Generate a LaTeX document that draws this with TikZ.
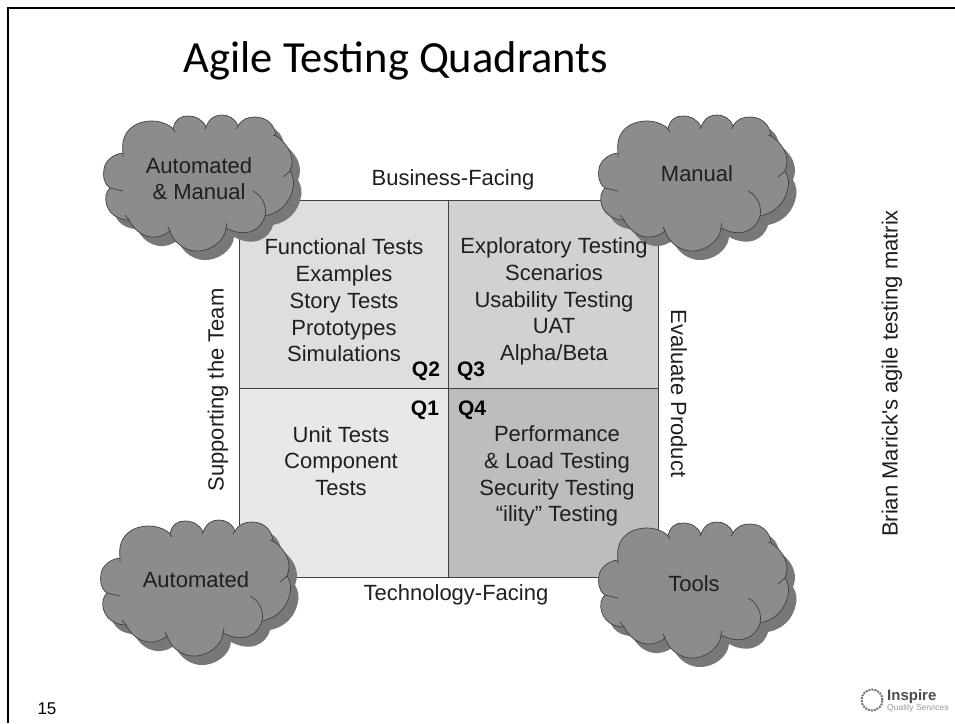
\documentclass[tikz,border=0pt]{standalone}
\usepackage{fontspec}
\setmainfont{Liberation Sans}
\newfontfamily\titlefont{Carlito}
\newfontfamily\plainfont{Liberation Sans}
\definecolor{cloudfill}{gray}{0.55}
\definecolor{cloudshadow}{gray}{0.47}
\definecolor{txt}{gray}{0.12}
\newcommand{\cloudfillpath}{
 (28,50) .. controls (25,28) and (40,18) .. (57,18) .. controls (66,18) and (75,22) .. (78,26)
 .. controls (80,16) and (86,13) .. (93,13) .. controls (101,13) and (108,17) .. (111,24)
 .. controls (115,14) and (121,12) .. (127,12) .. controls (133,12) and (140,15) .. (143,23)
 .. controls (147,16) and (153,14) .. (160,14) .. controls (172,14) and (180,22) .. (181,33)
 .. controls (192,40) and (197,50) .. (197,59) .. controls (197,62) and (196,65) .. (195,68)
 .. controls (199,75) and (199,80) .. (198,85) .. controls (195,100) and (185,110) .. (170,113)
 .. controls (166,128) and (150,135) .. (131,125)
 .. controls (130,138) and (115,149) .. (100,148) .. controls (88,147) and (78,138) .. (75,128)
 .. controls (65,137) and (45,138) .. (34,117)
 .. controls (18,117) and (9,105) .. (11,92) .. controls (12,89) and (13,87) .. (15,85)
 .. controls (8,80) and (8,72) .. (9,66) .. controls (10,58) and (18,51) .. (28,50) -- cycle}
\newcommand{\cloudtails}{
 (28,50) -- (28,54) (78,26) -- (80,29) (111,24) -- (110,26) (143,23) -- (141,26)
 (181,33) -- (178,32) (195,68) -- (188,74)
 (170,113) .. controls (172,104) and (168,93) .. (158,88)
 (131,125) -- (132,120) (75,128) -- (73,124) (34,117) -- (30,112) (15,85) -- (28,88)}
\tikzset{
 x=1pt,y=-1pt,
 quad/.style={draw=black!75,line width=0.8pt,anchor=north west,inner sep=0pt},
 body/.style={align=center,text=txt,font=\fontsize{22}{26.7}\selectfont,inner sep=0pt},
 lab/.style={text=txt,font=\fontsize{22}{26}\selectfont,inner sep=0pt},
 qlab/.style={text=black,font=\bfseries\fontsize{21}{25}\selectfont,inner sep=0pt},
 cloudlab/.style={text=txt,font=\fontsize{22}{27}\selectfont,align=center,inner sep=0pt}
}
\newcommand{\cloudat}[2]{%
 \fill[cloudshadow,shift={(#1+8,#2+9)}] \cloudfillpath;
 \fill[cloudfill,shift={(#1,#2)}] \cloudfillpath;
 \draw[black!75,line width=0.7pt,shift={(#1,#2)}] \cloudfillpath \cloudtails;
}
\begin{document}
\begin{tikzpicture}
\useasboundingbox (0,0) rectangle (955,723);
\fill[white] (0,0) rectangle (955,723);
\draw[black,line width=2.4pt] (8,723) -- (8,8) -- (955,8);
\node[inner sep=0pt,anchor=center,text=black,font=\titlefont\fontsize{44.5}{50}\selectfont] (title) at (396,61) {Agile Testing Quadrants};

\node[quad,fill=black!13,minimum width=209pt,minimum height=188pt] (q2) at (239,200) {};
\node[quad,fill=black!18,minimum width=210pt,minimum height=188pt] (q3) at (448,200) {};
\node[quad,fill=black!9,minimum width=209pt,minimum height=189pt] (q1) at (239,388) {};
\node[quad,fill=black!26,minimum width=210pt,minimum height=189pt] (q4) at (448,388) {};

\cloudat{95}{103}
\cloudat{590}{103}
\cloudat{92}{508}
\cloudat{590}{510}

\node[cloudlab] (c1) at (199,179) {Automated\\[-1pt]\& Manual};
\node[cloudlab] (c2) at (697,174) {Manual};
\node[cloudlab] (c3) at (196,580) {Automated};
\node[cloudlab] (c4) at (694,584) {Tools};

\node[body] (t2) at (344,300.5) {Functional Tests\\Examples\\Story Tests\\Prototypes\\Simulations};
\node[body] (t3) at (554,301.5) {Exploratory Testing\\Scenarios\\Usability Testing\\UAT\\Alpha/Beta};
\node[body] (t1) at (341,461) {Unit Tests\\Component\\Tests};
\node[body] (t4) at (557,476) {Performance\\\& Load Testing\\Security Testing\\“ility” Testing};

\node[qlab] (l2) at (426,371) {Q2};
\node[qlab] (l3) at (471,371) {Q3};
\node[qlab] (l1) at (425,410) {Q1};
\node[qlab] (l4) at (472,410) {Q4};

\node[lab] (top) at (453,180) {Business-Facing};
\node[lab] (bot) at (456,595) {Technology-Facing};
\node[lab,rotate=90] (left) at (218,390) {Supporting the Team};
\node[lab,rotate=-90] (right) at (679,393.5) {Evaluate Product};
\node[lab,rotate=90] (side) at (892,373.5) {\plainfont Brian Marick's agile testing matrix};

\node[inner sep=0pt,font=\fontsize{17}{20}\selectfont,text=black] (num) at (47,709) {15};

\draw[black!55,line width=2pt,densely dotted] (872,700) circle (10.5pt);
\node[inner sep=0pt,anchor=west,text=black!70,font=\bfseries\fontsize{15}{16}\selectfont] (logo) at (887,697) {Inspire};
\node[inner sep=0pt,anchor=west,text=black!40,font=\fontsize{8.5}{10}\selectfont] (logo2) at (887,708) {Quality Services};
\end{tikzpicture}
\end{document}
